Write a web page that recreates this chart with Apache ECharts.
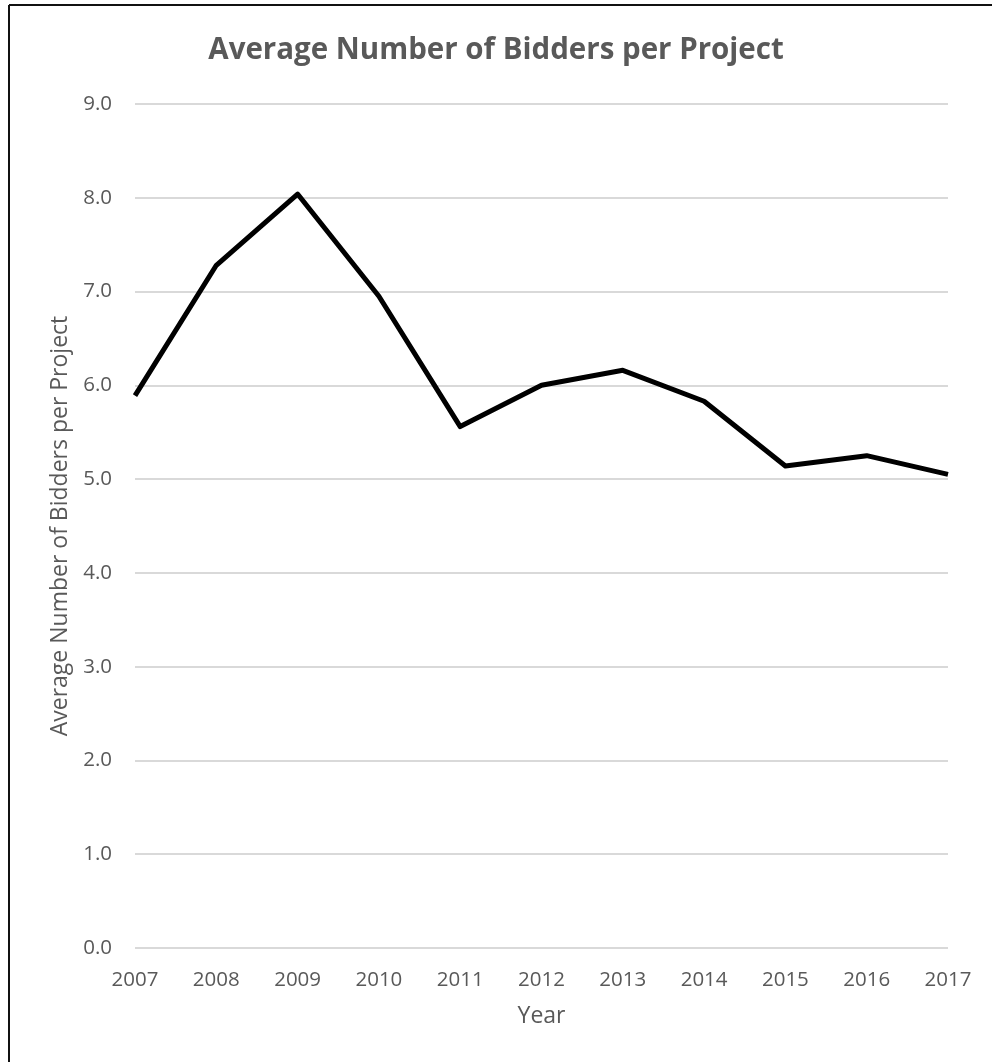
<!DOCTYPE html>
<html>
<head>
<meta charset="utf-8">
<script src="https://cdn.jsdelivr.net/npm/echarts@6/dist/echarts.min.js"></script>
<style>
html,body{margin:0;padding:0;background:#fff;}
#chart{width:992px;height:1062px;}
</style>
</head>
<body>
<div id="chart"></div>
<script>
const years = ['2007','2008','2009','2010','2011','2012','2013','2014','2015','2016','2017'];
const avgBidders = [5.89, 7.28, 8.04, 6.95, 5.56, 6.00, 6.16, 5.83, 5.14, 5.25, 5.05];
const yTicks = {min: 0, max: 9, interval: 1};
const titleText = 'Average Number of Bidders per Project';
const yName = 'Average Number of Bidders per Project';
const xName = 'Year';

const chart = echarts.init(document.getElementById('chart'), null, {renderer: 'canvas'});
const txt = '#595959';
const font = '"Open Sans", "Noto Sans", sans-serif';
chart.setOption({
  animation: false,
  backgroundColor: '#fff',
  title: {
    text: titleText,
    left: 'center',
    top: 31,
    textStyle: {color: txt, fontSize: 29.5, fontWeight: 'bold', fontFamily: font}
  },
  grid: {left: 135, right: 44, top: 104, bottom: 114},
  xAxis: {
    type: 'category',
    data: years,
    boundaryGap: false,
    name: xName,
    nameLocation: 'middle',
    nameGap: 57,
    nameTextStyle: {color: txt, fontSize: 23, fontFamily: font},
    axisLine: {show: false},
    axisTick: {show: false},
    axisLabel: {color: txt, fontSize: 20.5, fontFamily: font, margin: 22}
  },
  yAxis: {
    type: 'value',
    min: yTicks.min,
    max: yTicks.max,
    interval: yTicks.interval,
    name: yName,
    nameLocation: 'middle',
    nameGap: 58,
    nameTextStyle: {color: txt, fontSize: 23, fontFamily: font},
    axisLine: {show: false},
    axisTick: {show: false},
    axisLabel: {color: txt, fontSize: 20.5, fontFamily: font, margin: 23, formatter: v => v.toFixed(1)},
    splitLine: {lineStyle: {color: '#d9d9d9', width: 2}}
  },
  graphic: [
    {type: 'line', shape: {x1: 9, y1: 5, x2: 992, y2: 5}, style: {stroke: '#111', lineWidth: 2}},
    {type: 'line', shape: {x1: 9, y1: 5, x2: 9, y2: 1062}, style: {stroke: '#111', lineWidth: 2}}
  ],
  series: [{
    type: 'line',
    data: avgBidders,
    symbol: 'none',
    lineStyle: {color: '#000', width: 5, join: 'round'}
  }]
});
</script>
</body>
</html>
